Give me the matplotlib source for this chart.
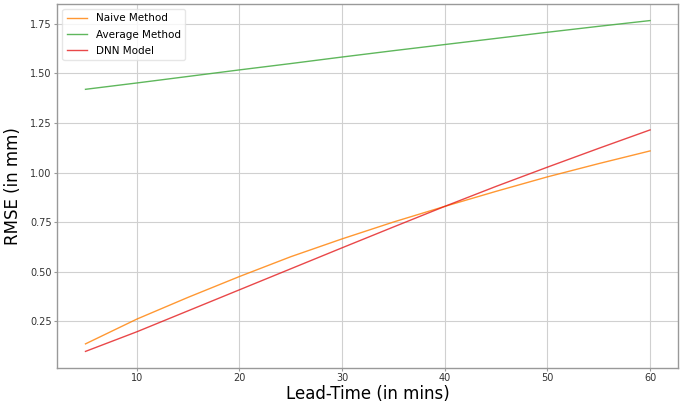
import numpy as np
import matplotlib
matplotlib.use('Agg')
import matplotlib.pyplot as plt

lead_time = [5, 10, 15, 20, 25, 30, 35, 40, 45, 50, 55, 60]
naive = [0.135, 0.26, 0.37, 0.475, 0.575, 0.665, 0.75, 0.829, 0.905, 0.978, 1.045, 1.109]
average = [1.42, 1.452, 1.485, 1.518, 1.55, 1.583, 1.615, 1.646, 1.677, 1.708, 1.738, 1.767]
dnn = [0.097, 0.196, 0.302, 0.408, 0.514, 0.62, 0.725, 0.829, 0.93, 1.027, 1.122, 1.215]

fig = plt.figure(figsize=(6.9, 4.03), dpi=100)
ax = fig.add_axes([0.083, 0.087, 0.9, 0.903])

ax.plot(lead_time, naive, color='#ff7f00', alpha=0.8, lw=1, label='Naive Method')
ax.plot(lead_time, average, color='#4daf4a', alpha=0.9, lw=1, label='Average Method')
ax.plot(lead_time, dnn, color='#e41a1c', alpha=0.8, lw=1, label='DNN Model')

ax.grid(True, color='#d0d0d0', lw=0.8)
ax.set_axisbelow(True)
for s in ax.spines.values():
    s.set_color('#999999')
    s.set_linewidth(1)
ax.tick_params(labelsize=7, length=2, color='#999999', labelcolor='#333333', pad=2)
ax.set_xticks([10, 20, 30, 40, 50, 60])
ax.set_yticks([0.25, 0.5, 0.75, 1.0, 1.25, 1.5, 1.75])
ax.set_xlabel('Lead-Time (in mins)', fontsize=12, labelpad=1)
ax.set_ylabel('RMSE (in mm)', fontsize=12, labelpad=6)
ax.legend(loc='upper left', fontsize=7.5, labelspacing=0.6, frameon=True,
          framealpha=0.8, edgecolor='#e0e0e0')

plt.savefig('out.png')
